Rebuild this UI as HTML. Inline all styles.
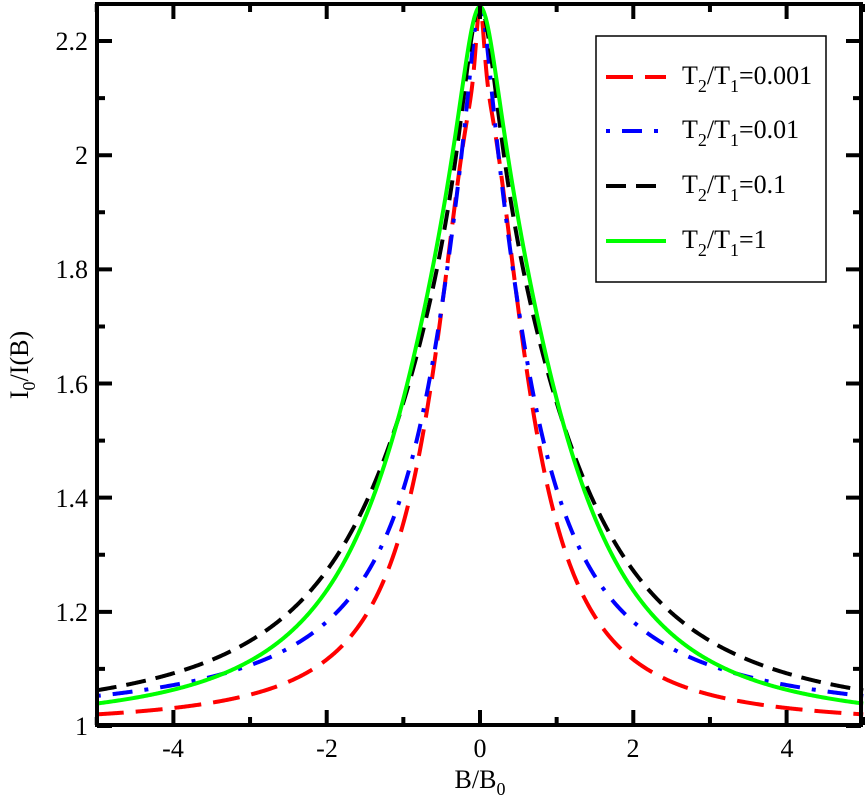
<!DOCTYPE html>
<html><head><meta charset="utf-8"><style>
html,body{margin:0;padding:0;background:#fff;}
svg{display:block;font-family:"Liberation Serif",serif;}
</style></head><body>
<svg id="s" width="865" height="804" viewBox="0 0 865 804" xmlns="http://www.w3.org/2000/svg">
<g id="curves" fill="none" stroke-width="4"></g>
<rect x="97" y="4" width="764" height="721" fill="none" stroke="#000" stroke-width="4"/>
<g id="ticks" stroke="#000" stroke-width="4"></g>
<g font-size="26" fill="#000">
<text x="88" y="735" text-anchor="end">1</text>
<text x="88" y="621" text-anchor="end">1.2</text>
<text x="88" y="507" text-anchor="end">1.4</text>
<text x="88" y="393" text-anchor="end">1.6</text>
<text x="88" y="278" text-anchor="end">1.8</text>
<text x="88" y="164" text-anchor="end">2</text>
<text x="88" y="50" text-anchor="end">2.2</text>
<text x="173" y="757" text-anchor="middle">-4</text>
<text x="327" y="757" text-anchor="middle">-2</text>
<text x="480" y="757" text-anchor="middle">0</text>
<text x="633" y="757" text-anchor="middle">2</text>
<text x="787" y="757" text-anchor="middle">4</text>
<text x="480" y="788" text-anchor="middle">B/B<tspan font-size="18" dy="7">0</tspan></text>
<text transform="translate(28,365) rotate(-90)" text-anchor="middle">I<tspan font-size="18" dy="7">0</tspan><tspan dy="-7">/I(B)</tspan></text>
</g>
<rect x="596" y="36" width="230" height="246" fill="#fff" stroke="#000" stroke-width="1.5"/>
<g stroke-width="4">
<line x1="606" y1="77" x2="666" y2="77" stroke="#f00" stroke-dasharray="27,12"/>
<line x1="606" y1="131" x2="666" y2="131" stroke="#00f" stroke-dasharray="4,12,20,12"/>
<line x1="606" y1="186" x2="666" y2="186" stroke="#000" stroke-dasharray="20,10"/>
<line x1="606" y1="241" x2="666" y2="241" stroke="#0f0"/>
</g>
<g font-size="26" fill="#000">
<text x="682" y="84">T<tspan font-size="18" dy="8">2</tspan><tspan dy="-8">/T</tspan><tspan font-size="18" dy="8">1</tspan><tspan dy="-8">=0.001</tspan></text>
<text x="682" y="138">T<tspan font-size="18" dy="8">2</tspan><tspan dy="-8">/T</tspan><tspan font-size="18" dy="8">1</tspan><tspan dy="-8">=0.01</tspan></text>
<text x="682" y="193">T<tspan font-size="18" dy="8">2</tspan><tspan dy="-8">/T</tspan><tspan font-size="18" dy="8">1</tspan><tspan dy="-8">=0.1</tspan></text>
<text x="682" y="248">T<tspan font-size="18" dy="8">2</tspan><tspan dy="-8">/T</tspan><tspan font-size="18" dy="8">1</tspan><tspan dy="-8">=1</tspan></text>
</g>
</svg>
<script>
var NS="http://www.w3.org/2000/svg";
function px(u){return 480+76.65*u;}
function py(v){return 726-570.8*(v-1);}
var T=document.getElementById("ticks"),d="";
for(var i=0;i<=12;i++){var v=1+i*0.1,y=py(v),L=(i%2==0)?15:8;
 d+="M97 "+y+"h"+L+"M861 "+y+"h-"+L;}
for(var k=-5;k<=5;k++){var x=px(k),L=(k%2==0)?15:8;
 d+="M"+x+" 725v-"+L+"M"+x+" 4v"+L;}
var p=document.createElementNS(NS,"path");p.setAttribute("d",d);T.appendChild(p);
var data={
 red:[[0.05,2.2],[0.13,2.098],[0.33,1.923],[0.46,1.746],[0.69,1.571],[0.91,1.384],[1.27,1.261],[1.7,1.156],[2.22,1.103],[2.78,1.075],[3.61,1.049],[5,1.032],[5,1.032]],
 blue:[[0.06,2.2],[0.14,2.098],[0.34,1.923],[0.48,1.746],[0.72,1.571],[0.87,1.466],[1.27,1.32],[1.57,1.238],[2.0,1.173],[2.44,1.138],[2.96,1.11],[3.56,1.089],[5,1.068],[5,1.068]],
 black:[[0.08,2.2],[0.22,2.098],[0.42,1.923],[0.61,1.746],[1.02,1.571],[1.27,1.461],[1.74,1.32],[2.22,1.238],[2.78,1.168],[3.56,1.11],[4.17,1.086],[5,1.063],[5,1.063]],
 green:[[0.09,2.2],[0.26,2.098],[0.48,1.923],[0.65,1.746],[0.98,1.606],[1.43,1.384],[2.09,1.221],[2.61,1.138],[3.3,1.095],[5,1.046],[5,1.046]]
};
var A=1.26;
function model(q,u){var w1=Math.exp(q[0]),w2=Math.exp(q[1]),a=1/(1+Math.exp(-q[2])),pw=Math.exp(q[3]);
 return 1+A*(a/(1+(u/w1)*(u/w1))+(1-a)/Math.pow(1+(u/w2)*(u/w2),pw));}
function loss(q,pts){var s=0;for(var i=0;i<pts.length;i++){var e=py(model(q,pts[i][0]))-py(pts[i][1]);s+=e*e;}
 var lim=Math.log(0.2);if(q[0]<lim)s+=1e4*(lim-q[0])*(lim-q[0]);if(q[1]<lim)s+=1e4*(lim-q[1])*(lim-q[1]);
 return s;}
function nm(f,x0){var n=x0.length,S=[x0.slice()];
 for(var i=0;i<n;i++){var x=x0.slice();x[i]+=0.5;S.push(x);}
 var F=S.map(f);
 for(var it=0;it<3000;it++){
  var idx=S.map(function(_,i){return i;}).sort(function(a,b){return F[a]-F[b];});
  S=idx.map(function(i){return S[i];});F=idx.map(function(i){return F[i];});
  var c=new Array(n).fill(0);for(var i=0;i<n;i++)for(var j=0;j<n;j++)c[j]+=S[i][j]/n;
  var xr=c.map(function(v,j){return v+(v-S[n][j]);}),fr=f(xr);
  if(fr<F[0]){var xe=c.map(function(v,j){return v+2*(v-S[n][j]);}),fe=f(xe);
   if(fe<fr){S[n]=xe;F[n]=fe;}else{S[n]=xr;F[n]=fr;}}
  else if(fr<F[n-1]){S[n]=xr;F[n]=fr;}
  else{var xc=c.map(function(v,j){return v+0.5*(S[n][j]-v);}),fc=f(xc);
   if(fc<F[n]){S[n]=xc;F[n]=fc;}
   else{for(var i=1;i<=n;i++){S[i]=S[i].map(function(v,j){return S[0][j]+0.5*(v-S[0][j]);});F[i]=f(S[i]);}}}
 }
 return [S[0],F[0]];}
var sty={red:["#f00","27,12"],blue:["#00f","4,12,20,12"],black:["#000","20,10"],green:["#0f0",""]};
var G=document.getElementById("curves");
["red","blue","black","green"].forEach(function(n){
 var pts=data[n],best=null;
 var starts=[[Math.log(0.4),Math.log(1.2),0,0],[Math.log(0.6),Math.log(2),1,-0.5],[Math.log(0.3),Math.log(0.9),-1,0.3],[Math.log(1),Math.log(0.5),0.5,0]];
 starts.forEach(function(s){var r=nm(function(q){return loss(q,pts);},s);if(!best||r[1]<best[1])best=r;});
 var q=best[0],s="";
 for(var i=0;i<=1000;i++){var u=-5+i*0.01;s+=(i?"L":"M")+px(u).toFixed(2)+" "+py(model(q,u)).toFixed(2);}
 var e=document.createElementNS(NS,"path");e.setAttribute("d",s);e.setAttribute("stroke",sty[n][0]);
 e.setAttribute("stroke-linejoin","round");
 if(sty[n][1])e.setAttribute("stroke-dasharray",sty[n][1]);G.appendChild(e);
});
</script>
</body></html>
